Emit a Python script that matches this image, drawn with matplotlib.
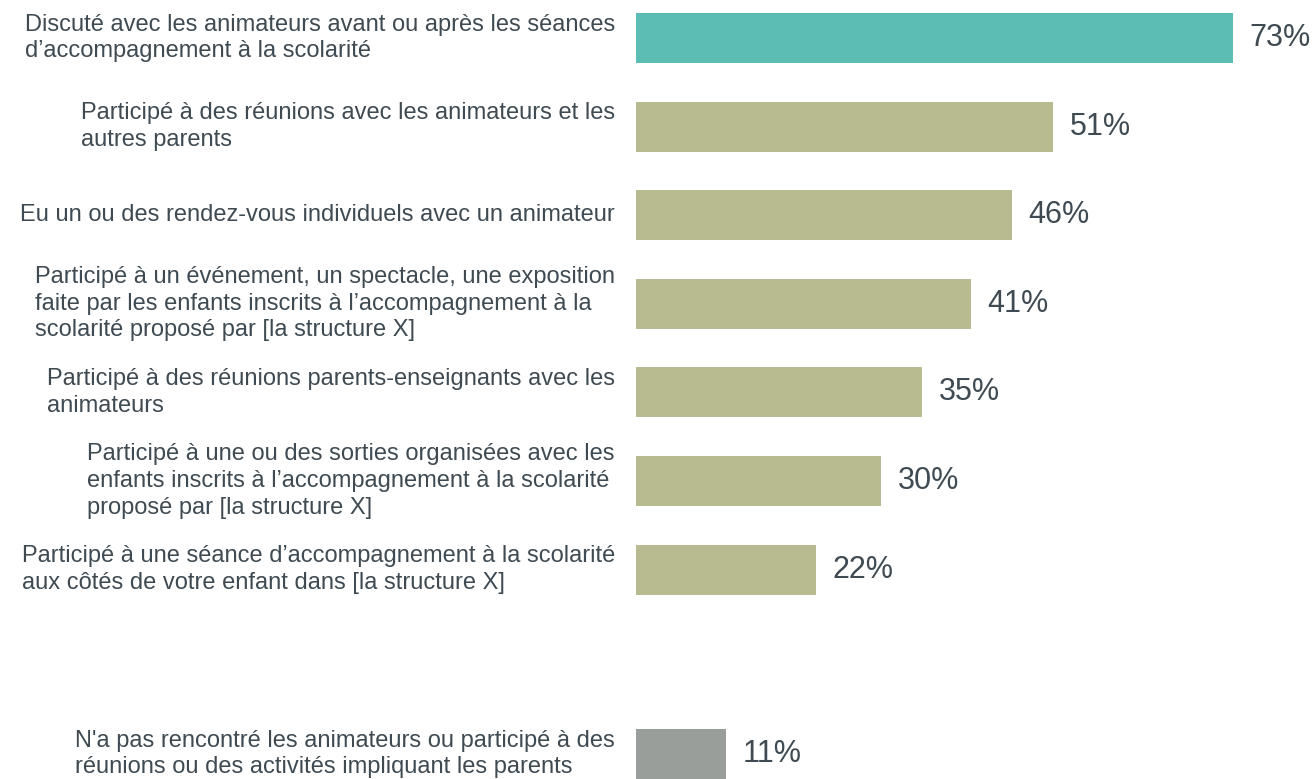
import matplotlib
matplotlib.use("Agg")
import matplotlib.pyplot as plt

labels = [
    "Discuté avec les animateurs avant ou après les séances\nd’accompagnement à la scolarité",
    "Participé à des réunions avec les animateurs et les\nautres parents",
    "Eu un ou des rendez-vous individuels avec un animateur",
    "Participé à un événement, un spectacle, une exposition\nfaite par les enfants inscrits à l’accompagnement à la\nscolarité proposé par [la structure X]",
    "Participé à des réunions parents-enseignants avec les\nanimateurs",
    "Participé à une ou des sorties organisées avec les\nenfants inscrits à l’accompagnement à la scolarité\nproposé par [la structure X]",
    "Participé à une séance d’accompagnement à la scolarité\naux côtés de votre enfant dans [la structure X]",
    "N'a pas rencontré les animateurs ou participé à des\nréunions ou des activités impliquant les parents",
]
values = [73, 51, 46, 41, 35, 30, 22, 11]
colors = ["#5bbdb3"] + ["#b8bb8f"] * 6 + ["#9a9e9b"]
positions = [0, 1, 2, 3, 4, 5, 6, 8.08]

text_color = "#3f4a52"
plt.rcParams['font.family'] = ['Liberation Sans', 'DejaVu Sans']

fig = plt.figure(figsize=(13.16, 7.79), dpi=100)
ax = fig.add_axes([636 / 1316, 0, 680 / 1316, 1])
ax.barh(positions, values, height=0.565, color=colors)
ax.set_xlim(0, 680 / 8.18)
ax.set_ylim((779 - 38) / 88.6, -38 / 88.6)
ax.axis('off')

for y, v, lab in zip(positions, values, labels):
    ax.text(v + 2.0, y, f"{v}%", va='center', ha='left', fontsize=22, color=text_color)
    ax.text(-2.57, y, lab, va='center', ha='right', multialignment='left',
            fontsize=17, color=text_color, clip_on=False, linespacing=1.27)

fig.savefig("out.png", dpi=100)
